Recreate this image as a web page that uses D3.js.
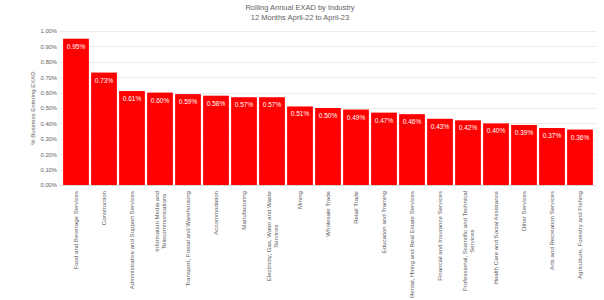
<!DOCTYPE html>
<html>
<head>
<meta charset="utf-8">
<script src="https://cdn.jsdelivr.net/npm/d3@7"></script>
<style>
  body { margin: 0; background: #fff; }
  svg text { font-family: "Liberation Sans", Arial, sans-serif; }
</style>
</head>
<body>
<div class="chart"></div>
<script>
(function drawChart() {
	"use strict";

	var industries = [
		["Food and Beverage Services"],
		["Construction"],
		["Administrative and Support Services"],
		["Information Media and", "Telecommunications"],
		["Transport, Postal and Warehousing"],
		["Accommodation"],
		["Manufacturing"],
		["Electricity, Gas, Water and Waste", "Services"],
		["Mining"],
		["Wholesale Trade"],
		["Retail Trade"],
		["Education and Training"],
		["Rental, Hiring and Real Estate Services"],
		["Financial and Insurance Services"],
		["Professional, Scientific and Technical", "Services"],
		["Health Care and Social Assistance"],
		["Other Services"],
		["Arts and Recreation Services"],
		["Agriculture, Forestry and Fishing"]
	];
	var exadRate = [0.95, 0.73, 0.61, 0.60, 0.59, 0.58, 0.57, 0.57, 0.51, 0.50,
		0.49, 0.47, 0.46, 0.43, 0.42, 0.40, 0.39, 0.37, 0.36];
	var yTicks = [0, 0.1, 0.2, 0.3, 0.4, 0.5, 0.6, 0.7, 0.8, 0.9, 1.0];
	var titleLines = ["Rolling Annual EXAD by Industry", "12 Months April-22 to April-23"];

	var width = 604, height = 300;
	var top = 31, bottom = 185, left = 62, right = 594;
	var textColor = "#626262";

	var svg = d3.select(".chart").append("svg")
		.attr("width", width)
		.attr("height", height);

	var x = d3.scaleBand()
		.domain(d3.range(industries.length))
		.range([left, right])
		.paddingInner(0.08)
		.paddingOuter(0.04);

	var y = d3.scaleLinear()
		.domain([0, 1.0])
		.range([bottom, top]);

	// title
	svg.append("g").selectAll("text")
		.data(titleLines)
		.enter().append("text")
		.attr("x", 300)
		.attr("y", function(d, i) { return 10 + i * 10; })
		.attr("text-anchor", "middle")
		.attr("font-size", "7.5px")
		.attr("fill", textColor)
		.text(function(d) { return d; });

	// gridlines
	svg.append("g").selectAll("line")
		.data(yTicks.slice(1))
		.enter().append("line")
		.attr("x1", 60).attr("x2", 596)
		.attr("y1", function(d) { return Math.round(y(d)) + 0.5; })
		.attr("y2", function(d) { return Math.round(y(d)) + 0.5; })
		.attr("stroke", "#ececec")
		.attr("stroke-width", 1);

	// y axis
	var yAxis = d3.axisLeft(y)
		.tickValues(yTicks)
		.tickSize(0)
		.tickPadding(4)
		.tickFormat(function(d) { return d3.format(".2f")(d) + "%"; });

	var yg = svg.append("g")
		.attr("transform", "translate(" + (left - 1) + ",0)")
		.call(yAxis);
	yg.select(".domain").remove();
	yg.selectAll("text")
		.attr("font-size", "5.8px")
		.attr("fill", textColor);

	svg.append("text")
		.attr("transform", "translate(35," + ((top + bottom) / 2) + ") rotate(-90)")
		.attr("text-anchor", "middle")
		.attr("font-size", "6px")
		.attr("fill", textColor)
		.text("% Business Entering EXAD");

	// bars
	svg.append("g").selectAll("rect")
		.data(exadRate)
		.enter().append("rect")
		.attr("x", function(d, i) { return x(i); })
		.attr("y", function(d) { return y(d); })
		.attr("width", x.bandwidth())
		.attr("height", function(d) { return y(0) - y(d); })
		.attr("fill", "#ff0000");

	// baseline
	svg.append("line")
		.attr("x1", 60).attr("x2", 596)
		.attr("y1", bottom + 0.5).attr("y2", bottom + 0.5)
		.attr("stroke", "#d9d9d9");

	// value labels
	svg.append("g").selectAll("text")
		.data(exadRate)
		.enter().append("text")
		.attr("x", function(d, i) { return x(i) + x.bandwidth() / 2; })
		.attr("y", function(d) { return y(d) + 10; })
		.attr("text-anchor", "middle")
		.attr("font-size", "6.5px")
		.attr("fill", "#ffffff")
		.text(function(d) { return d3.format(".2f")(d) + "%"; });

	// category labels
	var cat = svg.append("g").selectAll("g")
		.data(industries)
		.enter().append("g")
		.attr("transform", function(d, i) {
			return "translate(" + (x(i) + x.bandwidth() / 2) + "," + (bottom + 6) + ") rotate(-90)";
		});

	cat.each(function(lines) {
		var g = d3.select(this);
		var n = lines.length;
		lines.forEach(function(line, j) {
			g.append("text")
				.attr("x", 0)
				.attr("y", (j - (n - 1) / 2) * 7 + 2)
				.attr("text-anchor", n > 1 ? "middle" : "end")
				.attr("font-size", "6.1px")
				.attr("fill", textColor)
				.text(line);
		});
	});

	// two-line labels: centre lines on the longest one, which ends at the top
	cat.each(function(lines) {
		if (lines.length < 2) return;
		var texts = d3.select(this).selectAll("text").nodes();
		var w = d3.max(texts, function(t) { return t.getComputedTextLength(); });
		texts.forEach(function(t) {
			d3.select(t).attr("x", -w / 2);
		});
	});
}());
</script>
</body>
</html>
